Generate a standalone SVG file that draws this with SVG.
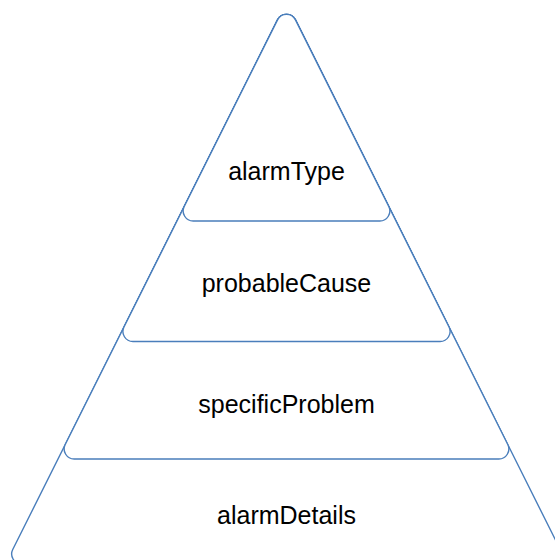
<svg xmlns="http://www.w3.org/2000/svg" width="555" height="560" viewBox="0 0 555 560">
<style>
.layer{fill:#ffffff;stroke:#4a7ebb;stroke-width:1.4;}
.lbl{font-family:"Liberation Sans",Arial,sans-serif;font-size:25px;fill:#000000;text-anchor:middle;}
</style>
<rect x="0" y="0" width="555" height="560" fill="#ffffff"/>
<g id="alarmDetails">
<path class="layer" d="M277.56,19.89 L12.74,549.53 A10,10 0 0 0 21.68,564 L551.32,564 A10,10 0 0 0 560.26,549.53 L295.44,19.89 A10,10 0 0 0 277.56,19.89 Z"/>
<text class="lbl" x="286.5" y="524">alarmDetails</text>
</g>
<g id="specificProblem">
<path class="layer" d="M277.56,19.89 L65.24,444.53 A10,10 0 0 0 74.18,459 L498.82,459 A10,10 0 0 0 507.76,444.53 L295.44,19.89 A10,10 0 0 0 277.56,19.89 Z"/>
<text class="lbl" x="286.5" y="413">specificProblem</text>
</g>
<g id="probableCause">
<path class="layer" d="M277.56,19.89 L123.99,327.03 A10,10 0 0 0 132.93,341.5 L440.07,341.5 A10,10 0 0 0 449.01,327.03 L295.44,19.89 A10,10 0 0 0 277.56,19.89 Z"/>
<text class="lbl" x="286.5" y="292">probableCause</text>
</g>
<g id="alarmType">
<path class="layer" d="M277.56,19.89 L184.24,206.53 A10,10 0 0 0 193.18,221 L379.82,221 A10,10 0 0 0 388.76,206.53 L295.44,19.89 A10,10 0 0 0 277.56,19.89 Z"/>
<text class="lbl" x="286.5" y="180">alarmType</text>
</g>
</svg>
